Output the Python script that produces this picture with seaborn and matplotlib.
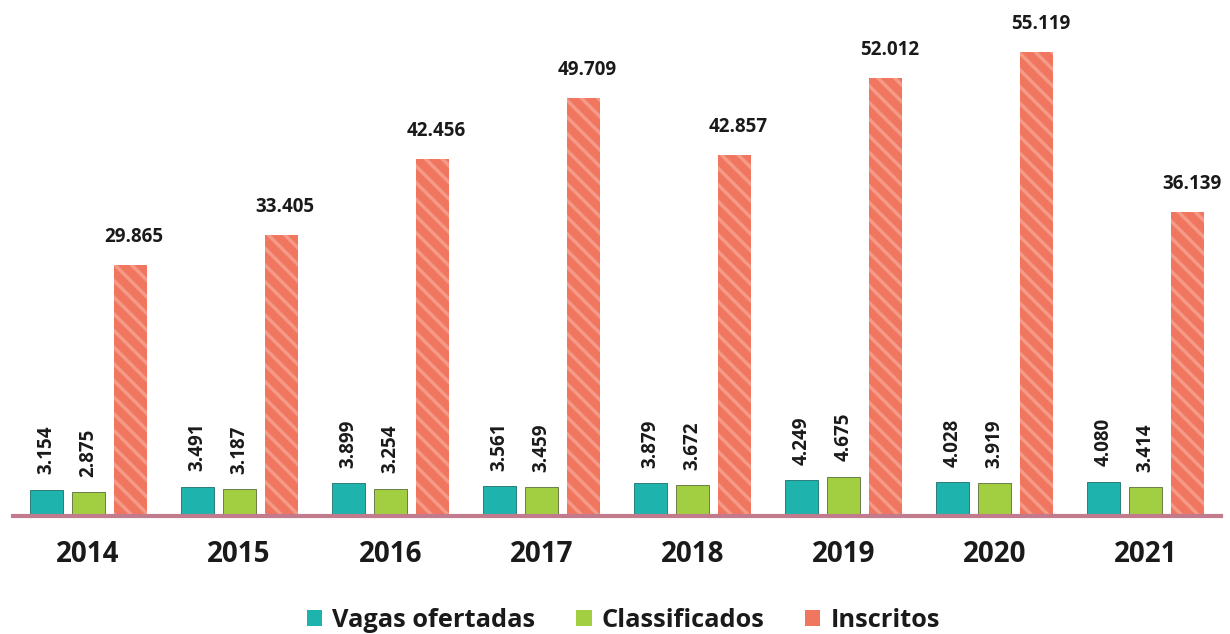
import matplotlib
matplotlib.use("Agg")
import matplotlib.pyplot as plt
import seaborn as sns
import pandas as pd

anos = ["2014", "2015", "2016", "2017", "2018", "2019", "2020", "2021"]
vagas = [3154, 3491, 3899, 3561, 3879, 4249, 4028, 4080]
classificados = [2875, 3187, 3254, 3459, 3672, 4675, 3919, 3414]
inscritos = [29865, 33405, 42456, 49709, 42857, 52012, 55119, 36139]

series = ["Vagas ofertadas", "Classificados", "Inscritos"]
cores = ["#1fb3ae", "#a2cf42", "#f0765f"]


def fmt(v):
    # thousands separator with a dot (pt-BR)
    return f"{v:,}".replace(",", ".")


df = pd.DataFrame({
    "ano": anos * 3,
    "serie": [series[0]] * 8 + [series[1]] * 8 + [series[2]] * 8,
    "valor": vagas + classificados + inscritos,
})

sns.set_theme(style="white")
plt.rcParams["font.family"] = ["Open Sans", "DejaVu Sans"]
plt.rcParams["hatch.linewidth"] = 2.5

fig = plt.figure(figsize=(12.3, 6.34), dpi=100)
ax = fig.add_axes([0.0102, 0.186, 0.9825, 0.814])

sns.barplot(data=df, x="ano", y="valor", hue="serie", hue_order=series,
            palette=cores, width=0.834, gap=0.214, ax=ax, legend=False,
            saturation=1, linewidth=0)

# stripes on the Inscritos bars, borders on the small ones
for cont, nome in zip(ax.containers, series):
    for p in cont:
        if nome == "Inscritos":
            p.set_hatch("\\\\")
            p.set_edgecolor("#f59a86")
            p.set_linewidth(0)
        else:
            p.set_edgecolor("#5a6b3a" if nome == "Classificados" else "#1b6f6c")
            p.set_linewidth(0.6)

# value labels
for cont, nome in zip(ax.containers, series):
    for p in cont:
        h = p.get_height()
        x = p.get_x() + p.get_width() / 2
        if nome == "Inscritos":
            ax.annotate(fmt(int(round(h))), (x, h), xytext=(3, 13),
                        textcoords="offset points", ha="center", va="bottom",
                        fontsize=13.5, fontweight="bold", color="#1a1a1a")
        else:
            ax.annotate(fmt(int(round(h))), (x, h), xytext=(0, 11),
                        textcoords="offset points", ha="center", va="bottom",
                        rotation=90, fontsize=13.5, fontweight="bold",
                        color="#1a1a1a")

ax.set_ylim(0, 61300)
ax.set_xlim(-0.5, 7.5)
ax.set_xlabel("")
ax.set_ylabel("")
ax.set_yticks([])
ax.tick_params(axis="x", length=0, pad=17, labelsize=20)
for t in ax.get_xticklabels():
    t.set_fontweight("bold")
    t.set_color("#1a1a1a")

sns.despine(ax=ax, left=True, top=True, right=True)
ax.spines["bottom"].set_color("#c27b8c")
ax.spines["bottom"].set_linewidth(3)

handles = [plt.Rectangle((0, 0), 1, 1, facecolor=c, edgecolor="none") for c in cores]
leg = fig.legend(handles, series, loc="center", bbox_to_anchor=(0.507, 0.022),
                 ncol=3, frameon=False, handlelength=0.6, handleheight=0.6,
                 handletextpad=0.4, columnspacing=1.6,
                 prop={"size": 18.3, "weight": "bold"})
for t in leg.get_texts():
    t.set_color("#1a1a1a")

fig.savefig("out.png", dpi=100)
